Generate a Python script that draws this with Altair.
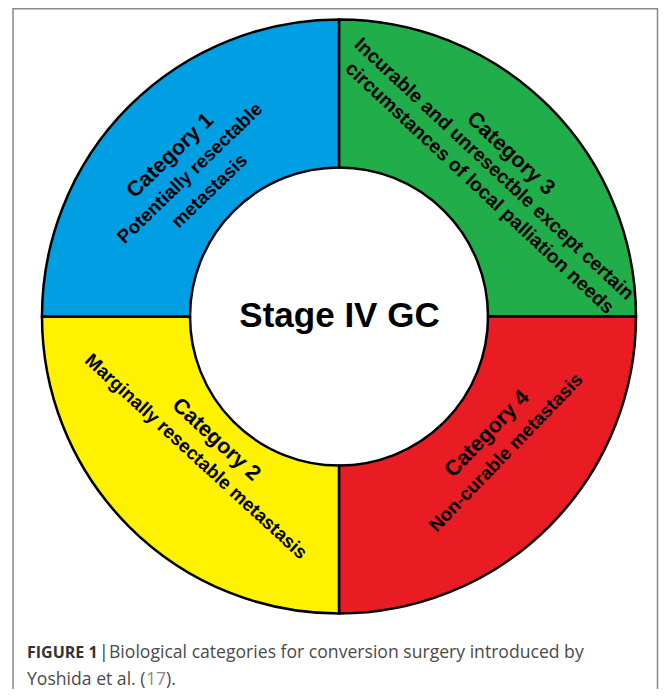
import altair as alt
import pandas as pd

# ---------------- data ----------------
categories = ["Category 3", "Category 4", "Category 2", "Category 1"]  # clockwise from 12 o'clock
shares = [1, 1, 1, 1]
palette = ["#22AD4B", "#E91C24", "#FFF200", "#009FE3"]

label_lines = [
    "Category 1", "Potentially resectable", "metastasis",
    "Category 3", "Incurable and unresectble except certain", "circumstances of local palliation needs",
    "Category 2", "Marginally resectable metastasis",
    "Category 4", "Non-curable metastasis",
]
center_label = "Stage IV GC"
caption_bold = "FIGURE 1"
caption_bar = "|"
caption_line1 = "Biological categories for conversion surgery introduced by"
caption_line2a = "Yoshida et al. ("
caption_ref = "17"
caption_line2b = ")."

# ---------------- layout ----------------
W, H = 651, 681
CX, CY = 331, 308.5          # donut centre in plot pixels
R_OUT, R_IN = 297, 149

# polar placement of each label line (deg clockwise from top, radius px), rotation, font size
label_theta = [313.6, 313.9, 314.1, 46.5, 46.4, 47.6, 224.9, 225.6, 128.4, 129.2]
label_radius = [232.7, 206.9, 180.3, 236.3, 214.0, 190.4, 174.3, 200.1, 189.4, 215.4]
label_rot = [316, 316, 316, 43, 43, 43, 42.5, 42.5, 314, 314]
label_size = [21.5, 18.8, 18.8, 21.5, 19.3, 19.3, 21.5, 18.8, 21.5, 18.8]

xs = alt.Scale(domain=[-CX, W - CX])
ys = alt.Scale(domain=[-(H - CY), CY])

def X(**kw):
    return alt.X(scale=xs, axis=None, **kw)

def Y(**kw):
    return alt.Y(scale=ys, axis=None, **kw)

donut_df = pd.DataFrame({"cat": categories, "share": shares, "idx": list(range(len(categories)))})
donut = alt.Chart(donut_df).mark_arc(
    innerRadius=R_IN, outerRadius=R_OUT, stroke="black", strokeWidth=2.5
).encode(
    theta=alt.Theta("share:Q", stack=True),
    order=alt.Order("idx:Q"),
    color=alt.Color("cat:N", scale=alt.Scale(domain=categories, range=palette), legend=None),
    x=X(datum=0),
    y=Y(datum=0),
)

lab_df = pd.DataFrame({
    "text": label_lines, "th": label_theta, "r": label_radius,
    "rot": label_rot, "fs": label_size,
})
labels = alt.Chart(lab_df).transform_calculate(
    px="datum.r * sin(datum.th * PI / 180)",
    py="datum.r * cos(datum.th * PI / 180)",
).mark_text(
    font="Liberation Sans", fontWeight="bold", align="center", baseline="middle", color="black"
).encode(
    x=X(field="px", type="quantitative"),
    y=Y(field="py", type="quantitative"),
    text="text:N",
    angle=alt.Angle("rot:Q", scale=None),
    size=alt.Size("fs:Q", scale=None),
)

center = alt.Chart(pd.DataFrame({"t": [center_label]})).mark_text(
    font="Liberation Sans", fontWeight="bold", fontSize=35, align="center",
    baseline="alphabetic", color="black"
).encode(x=X(datum=0.5), y=Y(datum=-10.5), text="t:N")

def cap(text, x, y, color="#4a4a4a", bold=False, size=17.6):
    return alt.Chart(pd.DataFrame({"t": [text]})).mark_text(
        font="Open Sans", fontSize=size, fontWeight="bold" if bold else "normal",
        align="left", baseline="alphabetic", color=color
    ).encode(x=X(datum=x), y=Y(datum=y), text="t:N")

caption = alt.layer(
    cap(caption_bold, -312, -341.5, "#333", True, 16),
    cap(caption_bar, -240, -341.5, "#333"),
    cap(caption_line1, -230, -341.5),
    cap(caption_line2a, -312, -368.5),
    cap(caption_ref, -193, -368.5, "#8a8a8a"),
    cap(caption_line2b, -173, -368.5),
)

frame = alt.Chart(pd.DataFrame({"a": [0]})).mark_rect(
    filled=False, stroke="#888", strokeWidth=1.5
).encode(x=X(datum=-326), x2=alt.X2(datum=W - CX - 1.5), y=Y(datum=CY - 0.8), y2=alt.Y2(datum=-420))

chart = alt.layer(frame, donut, labels, center, caption).properties(
    width=W, height=H, padding=0, autosize="none", background="white"
).configure_view(stroke=None)

chart.save("out.html", embed_options={"renderer": "svg", "actions": False})
